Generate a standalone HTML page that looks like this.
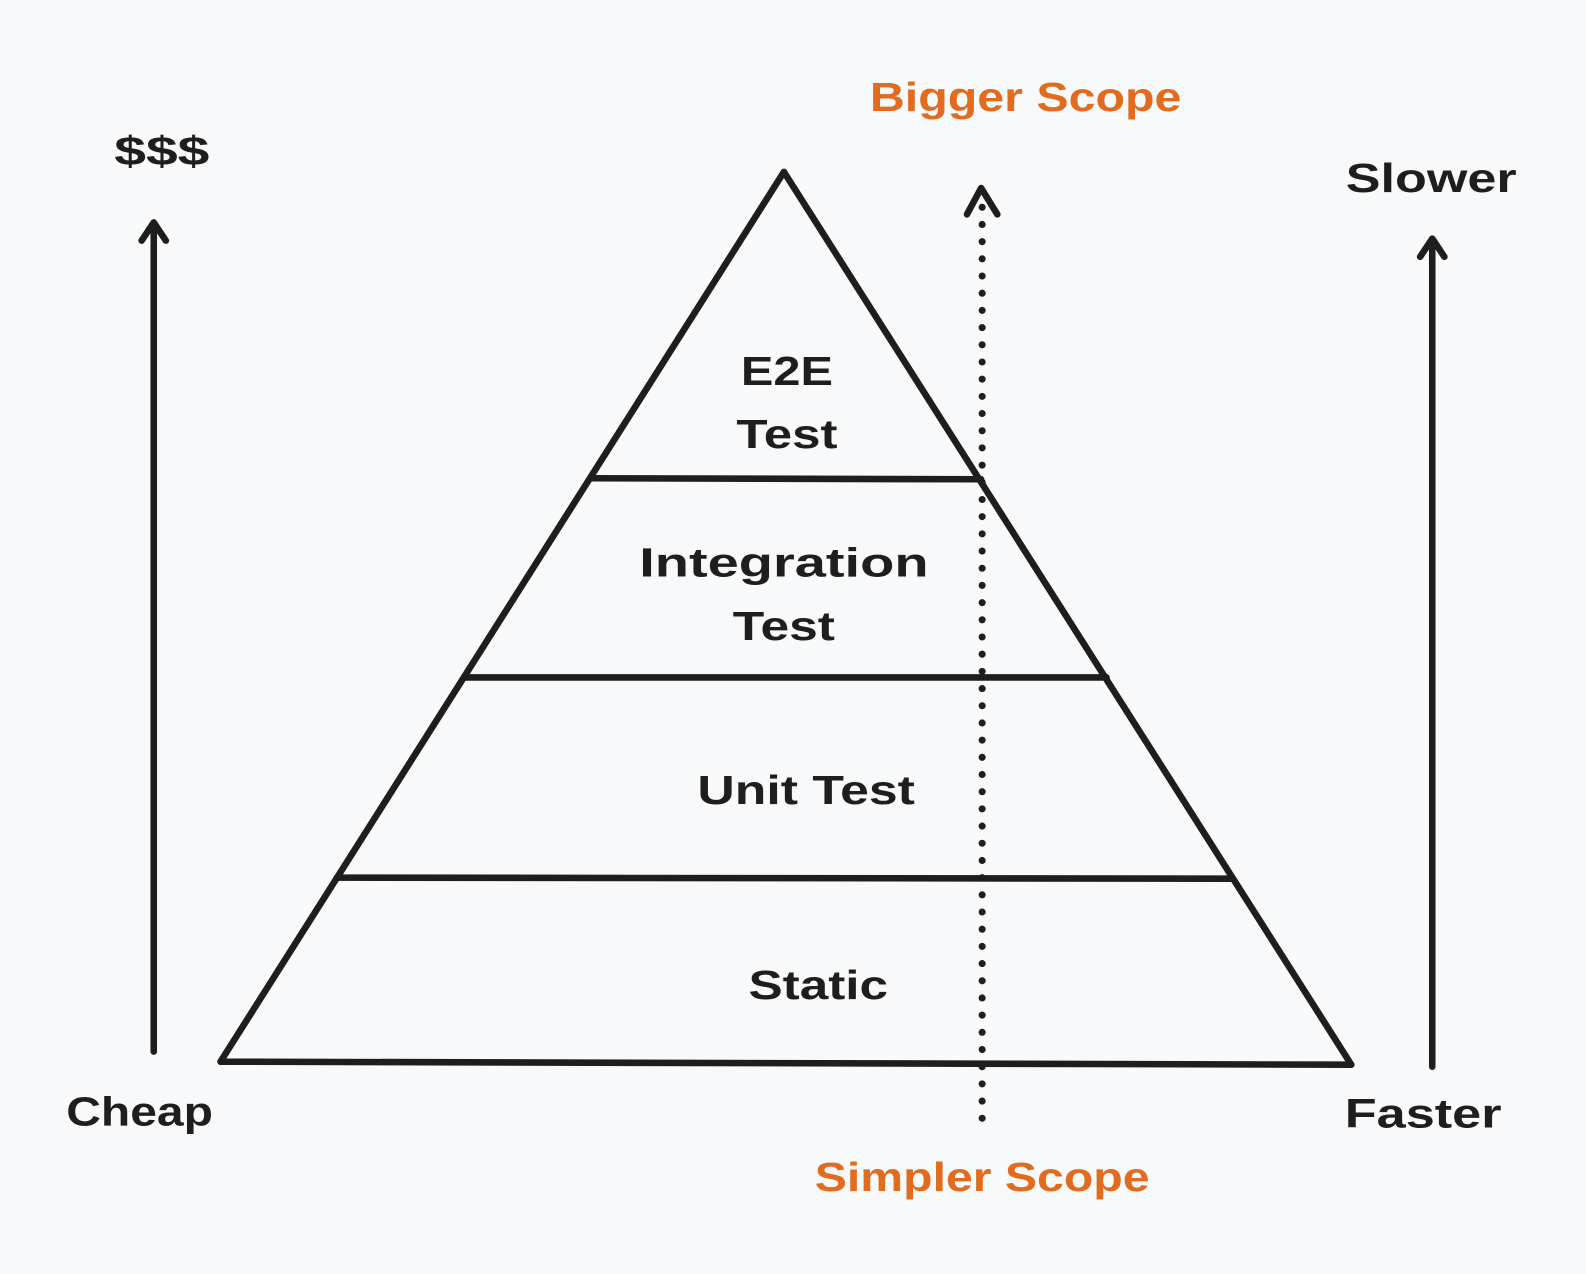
<!DOCTYPE html>
<html><head><meta charset="utf-8"><style>
html,body{margin:0;padding:0;background:#f8f9fa;}
svg{display:block}
text{font-family:"Liberation Sans",sans-serif;font-weight:bold;font-size:40px;fill:#1e1e1e;text-anchor:middle}
.o{fill:#e16b1e}
</style></head><body>
<svg width="1586" height="1274" viewBox="0 0 1568 1260" preserveAspectRatio="none" xmlns="http://www.w3.org/2000/svg">
<rect width="1568" height="1260" fill="#f8f9fa"/>
<g stroke="#1e1e1e" stroke-width="6.5" fill="none" stroke-linecap="round" stroke-linejoin="round">
<path d="M775 170 L218 1050 L1336 1053 Z"/>
<path d="M584 473 L970 474"/>
<path d="M459 670 L1094 670"/>
<path d="M333 868 L1218 869"/>
<path d="M152 1040 L152 220 M140 238 L152 220 L164 238"/>
<path d="M1416 1055 L1416 236 M1404 254 L1416 236 L1428 254"/>
<path d="M956 212 L970 186 L986 212"/>
<path d="M971 205 L971 1113" stroke-dasharray="0 17" stroke-width="7"/>
</g>
<text x="160" y="163" textLength="94" lengthAdjust="spacingAndGlyphs">$$$</text>
<text x="1415" y="190" textLength="169" lengthAdjust="spacingAndGlyphs">Slower</text>
<text x="138" y="1113" textLength="145" lengthAdjust="spacingAndGlyphs">Cheap</text>
<text x="1407" y="1115" textLength="155" lengthAdjust="spacingAndGlyphs">Faster</text>
<text class="o" x="1014" y="110" textLength="308" lengthAdjust="spacingAndGlyphs">Bigger Scope</text>
<text class="o" x="971" y="1178" textLength="331" lengthAdjust="spacingAndGlyphs">Simpler Scope</text>
<text x="778" y="381" textLength="91" lengthAdjust="spacingAndGlyphs">E2E</text>
<text x="778" y="443" textLength="100" lengthAdjust="spacingAndGlyphs">Test</text>
<text x="775" y="570" textLength="286" lengthAdjust="spacingAndGlyphs">Integration</text>
<text x="775" y="633" textLength="101" lengthAdjust="spacingAndGlyphs">Test</text>
<text x="797" y="795" textLength="215" lengthAdjust="spacingAndGlyphs">Unit Test</text>
<text x="809" y="988" textLength="138" lengthAdjust="spacingAndGlyphs">Static</text>
</svg>
</body></html>
